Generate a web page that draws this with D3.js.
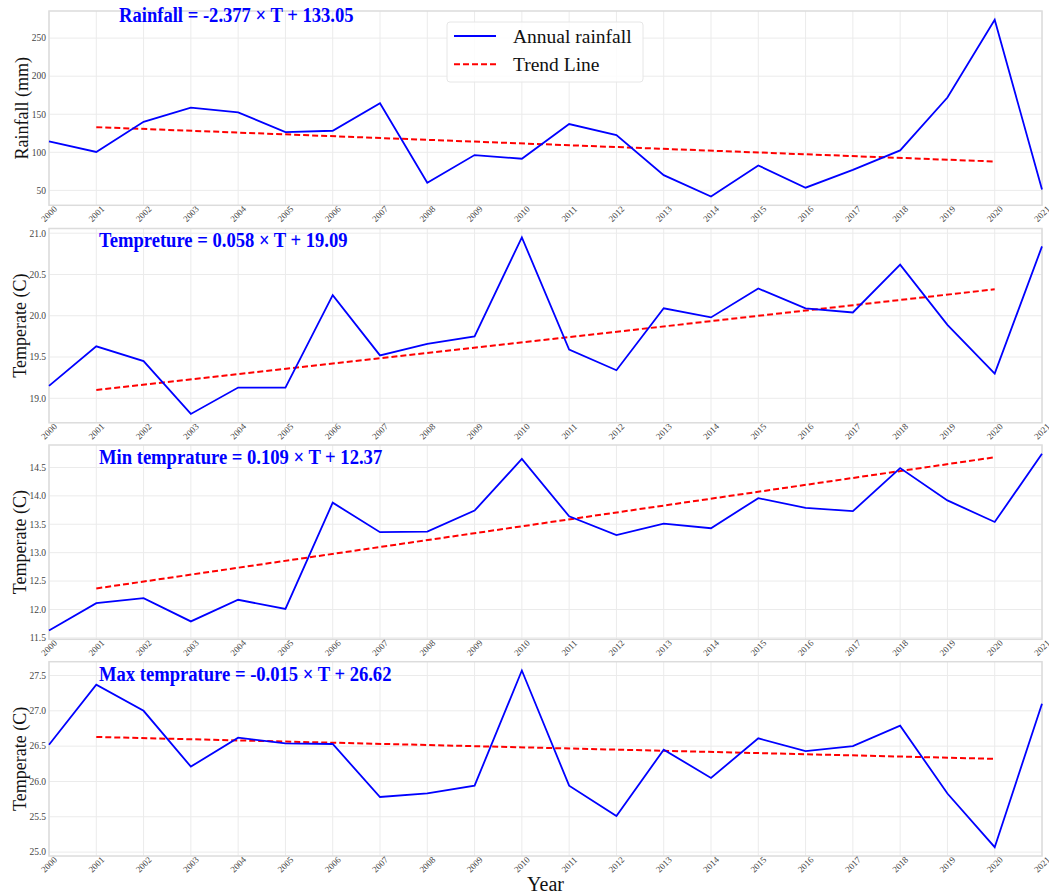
<!DOCTYPE html>
<html><head><meta charset="utf-8">
<script src="https://cdn.jsdelivr.net/npm/d3@7/dist/d3.min.js"></script>
<style>
body{margin:0;background:#fff}
svg{display:block}
text{font-family:"Liberation Serif","Times New Roman",Times,serif}
</style>
</head><body>
<svg id="chart" width="1049" height="895"></svg>
<script>
// ---------------- data ----------------
const years = [2000,2001,2002,2003,2004,2005,2006,2007,2008,2009,2010,2011,2012,2013,2014,2015,2016,2017,2018,2019,2020,2021];
const rainfall = [114.5,100.5,140,158.8,152.4,126.6,128.3,164.5,60,96.4,91.6,137.1,122.7,70,42,82.8,53.5,77,102.5,172,274,51];
const temperature = [19.15,19.63,19.45,18.81,19.13,19.13,20.25,19.52,19.66,19.75,20.95,19.59,19.34,20.09,19.98,20.33,20.09,20.04,20.62,19.89,19.30,20.84];
const minTemperature = [11.63,12.11,12.20,11.79,12.17,12.01,13.88,13.36,13.37,13.74,14.65,13.64,13.31,13.51,13.43,13.96,13.79,13.73,14.49,13.92,13.54,14.74];
const maxTemperature = [26.52,27.37,27.00,26.21,26.62,26.54,26.53,25.78,25.83,25.94,27.57,25.94,25.51,26.45,26.05,26.61,26.43,26.50,26.79,25.83,25.07,27.10];

const trendYears = [2001, 2020];
const rainfallTrend = [133.05, 87.89];
const temperatureTrend = [19.10, 20.32];
const minTemperatureTrend = [12.37, 14.68];
const maxTemperatureTrend = [26.63, 26.32];

const titles = [
  "Rainfall = -2.377 \u00d7 T + 133.05",
  "Tempreture = 0.058 \u00d7 T + 19.09",
  "Min temprature = 0.109 \u00d7 T + 12.37",
  "Max temprature = -0.015 \u00d7 T + 26.62"
];
const yLabels = ["Rainfall (mm)", "Temperate (C)", "Temperate (C)", "Temperate (C)"];
const yTicks = [
  [50,100,150,200,250],
  [19.0,19.5,20.0,20.5,21.0],
  [11.5,12.0,12.5,13.0,13.5,14.0,14.5],
  [25.0,25.5,26.0,26.5,27.0,27.5]
];
const legendLabels = ["Annual rainfall", "Trend Line"];
const xLabel = "Year";

// ---------------- layout ----------------
const svg = d3.select("#chart");
const left = 49, right = 1042;
const panelTops = [11, 228.5, 445, 661.7];
const panelH = 194.3;
const titlePos = [{x:119, dy:10.7}, {x:99, dy:18}, {x:99, dy:19}, {x:99, dy:19}];
const yLabelX = [28, 25.5, 25.5, 25.5];

const series = [rainfall, temperature, minTemperature, maxTemperature];
const trends = [rainfallTrend, temperatureTrend, minTemperatureTrend, maxTemperatureTrend];
const tickFmt = [d3.format("d"), d3.format(".1f"), d3.format(".1f"), d3.format(".1f")];

const x = d3.scaleLinear().domain([years[0], years[years.length-1]]).range([left, right]);

series.forEach((vals, i) => {
  const top = panelTops[i], bottom = top + panelH;
  const [mn, mx] = d3.extent(vals);
  const pad = (mx - mn) * 0.05;
  const y = d3.scaleLinear().domain([mn - pad, mx + pad]).range([bottom, top]);
  const g = svg.append("g");

  // grid
  g.selectAll(".vg").data(years).join("line")
    .attr("x1", d => x(d)).attr("x2", d => x(d))
    .attr("y1", top).attr("y2", bottom)
    .attr("stroke", "#ebebeb").attr("stroke-width", 1);
  g.selectAll(".hg").data(yTicks[i]).join("line")
    .attr("x1", left).attr("x2", right)
    .attr("y1", d => y(d)).attr("y2", d => y(d))
    .attr("stroke", "#ebebeb").attr("stroke-width", 1);

  // frame
  g.append("rect").attr("x", left).attr("y", top)
    .attr("width", right - left).attr("height", panelH)
    .attr("fill", "none").attr("stroke", "#dcdcdc").attr("stroke-width", 1.5);

  // y tick labels
  g.selectAll(".yt").data(yTicks[i]).join("text")
    .attr("x", left - 3).attr("y", d => y(d)).attr("dy", "0.35em")
    .attr("text-anchor", "end").attr("font-size", 9.5).attr("fill", "#444")
    .text(d => tickFmt[i](d));

  // x tick labels
  g.selectAll(".xt").data(years).join("text")
    .attr("transform", d => `translate(${x(d)},${bottom + 8.5}) rotate(-45)`)
    .attr("text-anchor", "middle").attr("dy", "0.35em")
    .attr("font-size", 9).attr("fill", "#444")
    .text(d => d);

  // y label
  g.append("text")
    .attr("transform", `translate(${yLabelX[i]},${(top + bottom) / 2}) rotate(-90)`)
    .attr("text-anchor", "middle").attr("font-size", 18).attr("fill", "#111")
    .text(yLabels[i]);

  // trend line
  const line = d3.line().x(d => x(d[0])).y(d => y(d[1]));
  g.append("path").datum(trendYears.map((t, k) => [t, trends[i][k]]))
    .attr("d", line).attr("fill", "none")
    .attr("stroke", "#ff0000").attr("stroke-width", 2)
    .attr("stroke-dasharray", "6,3");

  // data line
  g.append("path").datum(years.map((t, k) => [t, vals[k]]))
    .attr("d", line).attr("fill", "none")
    .attr("stroke", "#0000ff").attr("stroke-width", 1.8)
    .attr("stroke-linejoin", "miter");

  // title (slightly condensed bold serif)
  g.append("text")
    .attr("transform", `translate(${titlePos[i].x},${top + titlePos[i].dy}) scale(0.93,1)`)
    .attr("font-size", 20).attr("font-weight", "bold").attr("fill", "#0000ff")
    .text(titles[i]);

  // legend (first panel)
  if (i === 0) {
    const lg = g.append("g");
    lg.append("rect").attr("x", 447).attr("y", 22).attr("width", 196).attr("height", 60)
      .attr("rx", 3).attr("fill", "#fff").attr("fill-opacity", 0.85)
      .attr("stroke", "#e6e6e6").attr("stroke-width", 1);
    const styles = [{c:"#0000ff", dash:null, w:1.8}, {c:"#ff0000", dash:"6,3", w:2}];
    legendLabels.forEach((lab, k) => {
      const ly = 36 + k * 28.3;
      lg.append("line").attr("x1", 454).attr("x2", 496).attr("y1", ly).attr("y2", ly)
        .attr("stroke", styles[k].c).attr("stroke-width", styles[k].w)
        .attr("stroke-dasharray", styles[k].dash);
      lg.append("text").attr("x", 513).attr("y", ly + 7)
        .attr("font-size", 19.5).attr("fill", "#111").text(lab);
    });
  }
});

// x axis label
svg.append("text").attr("x", (left + right) / 2).attr("y", 891)
  .attr("text-anchor", "middle").attr("font-size", 20).attr("fill", "#111")
  .text(xLabel);
</script>
</body></html>
